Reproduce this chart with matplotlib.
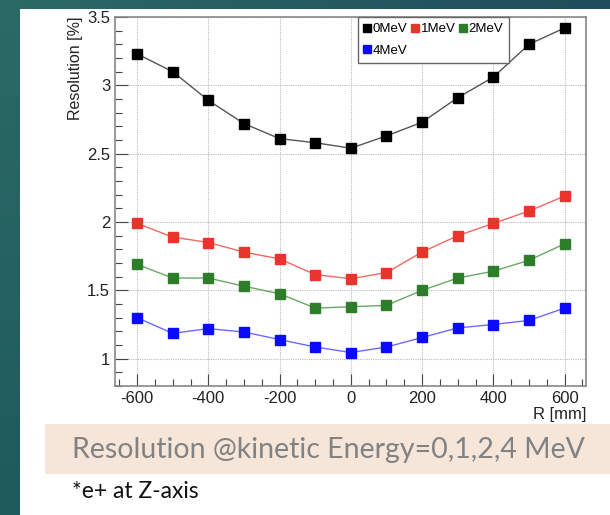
import numpy as np
import matplotlib
matplotlib.use("Agg")
import matplotlib.pyplot as plt
from matplotlib.patches import Rectangle
from matplotlib.ticker import MultipleLocator

plt.rcParams["font.family"] = ["Liberation Sans", "DejaVu Sans"]
plt.rcParams["axes.unicode_minus"] = False

R = [-600, -500, -400, -300, -200, -100, 0, 100, 200, 300, 400, 500, 600]
res_0mev = [3.23, 3.10, 2.89, 2.72, 2.61, 2.58, 2.54, 2.63, 2.73, 2.91, 3.06, 3.30, 3.42]
res_1mev = [1.99, 1.89, 1.85, 1.78, 1.73, 1.615, 1.585, 1.63, 1.78, 1.90, 1.99, 2.08, 2.19]
res_2mev = [1.69, 1.59, 1.59, 1.53, 1.475, 1.37, 1.38, 1.39, 1.50, 1.59, 1.64, 1.72, 1.84]
res_4mev = [1.30, 1.185, 1.22, 1.195, 1.14, 1.085, 1.045, 1.085, 1.155, 1.225, 1.25, 1.28, 1.37]

labels = ["0MeV", "1MeV", "2MeV", "4MeV"]
marker_colors = ["#000000", "#e8342c", "#2e7d2a", "#0a0aff"]
line_colors = ["#555555", "#ee6a62", "#6aa866", "#6a6aff"]

W, H = 610, 515
fig = plt.figure(figsize=(W / 100, H / 100), dpi=100)

# slide background: teal strips on the top and the left
bg = fig.add_axes([0, 0, 1, 1])
bg.set_xlim(0, W)
bg.set_ylim(H, 0)
bg.axis("off")
grad = np.linspace(0, 1, 256)[None, :]
bg.imshow(grad, extent=(0, W, 9, 0), aspect="auto",
          cmap=matplotlib.colors.LinearSegmentedColormap.from_list("t", ["#2b6a66", "#1e4d5b"]))
bg.imshow(grad.T, extent=(0, 20, H, 0), aspect="auto",
          cmap=matplotlib.colors.LinearSegmentedColormap.from_list("l", ["#2b6a66", "#1f5a5c"]))
bg.add_patch(Rectangle((45, 424), W - 45, 50, color="#f6e5d9", lw=0))
bg.text(72, 450, "Resolution @kinetic Energy=0,1,2,4 MeV", fontsize=20.5,
        color="#828282", va="center", ha="left", family="Lato")
bg.text(72, 491, "*e+ at Z-axis", fontsize=16.5, color="#111111",
        va="center", ha="left", family="Lato")

ax = fig.add_axes([115 / W, 1 - 386 / H, 471 / W, 369 / H])
series = [res_0mev, res_1mev, res_2mev, res_4mev]
lines = []
for vals, lab, mc, lc in zip(series, labels, marker_colors, line_colors):
    ln, = ax.plot(R, vals, color=lc, lw=1.0, marker="s", markersize=6.5,
                  markerfacecolor=mc, markeredgecolor=mc, label=lab)
    lines.append(ln)

ax.set_xlim(-662, 660)
ax.set_ylim(0.8, 3.5)
ax.xaxis.set_major_locator(MultipleLocator(200))
ax.xaxis.set_minor_locator(MultipleLocator(50))
ax.yaxis.set_major_locator(MultipleLocator(0.5))
ax.yaxis.set_minor_locator(MultipleLocator(0.1))
ax.set_yticks([1, 1.5, 2, 2.5, 3, 3.5])
ax.set_yticklabels(["1", "1.5", "2", "2.5", "3", "3.5"])
ax.tick_params(which="both", direction="in", colors="#444444", labelcolor="#222222",
               labelsize=12, top=False, right=False)
ax.tick_params(which="major", length=9, width=0.8)
ax.tick_params(which="minor", length=5, width=0.8)
ax.grid(True, which="major", ls=(0, (1, 1)), color="#bbbbbb", lw=0.8)
for s in ax.spines.values():
    s.set_color("#888888")
    s.set_linewidth(1.2)

ax.set_xlabel("R [mm]", fontsize=12, color="#222222", ha="right", x=1.0, labelpad=0.5)
ax.set_ylabel("Resolution [%]", fontsize=11.5, color="#222222", ha="right", y=1.0, labelpad=3)

# column-major fill: put 4MeV under 0MeV
order = [0, 3, 1, 2]
leg = ax.legend([lines[i] for i in order], [labels[i] for i in order],
                loc="upper left", bbox_to_anchor=(0.516, 1.0), ncol=3, fontsize=9.5,
                frameon=True, fancybox=False, edgecolor="#666666", framealpha=1,
                handlelength=0.5, handletextpad=0.15, columnspacing=0.35,
                borderpad=0.45, labelspacing=0.7, markerscale=0.9, borderaxespad=0)
leg.get_frame().set_linewidth(1.0)
for h in leg.legend_handles:
    h.set_linestyle("none")

fig.savefig("out.png", dpi=100)
